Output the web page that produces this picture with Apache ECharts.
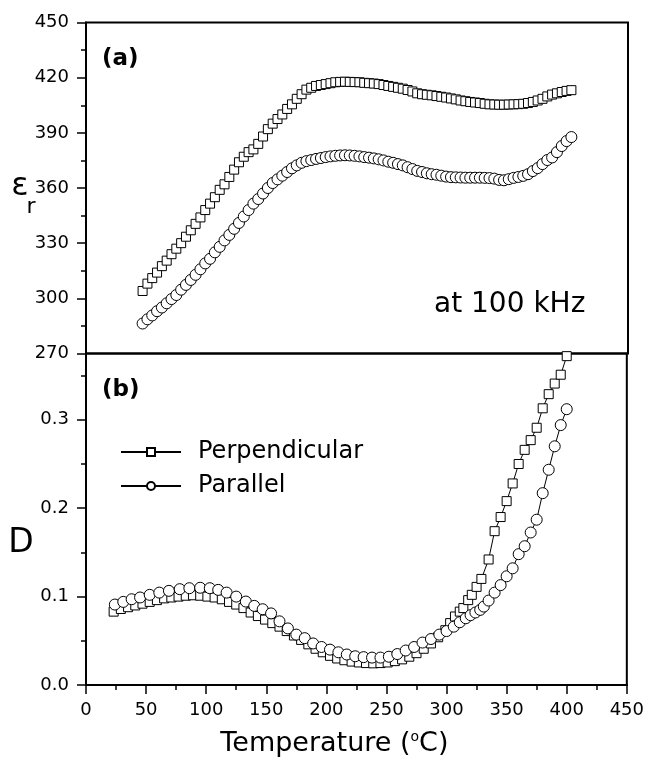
<!DOCTYPE html>
<html><head><meta charset="utf-8">
<script src="https://cdn.jsdelivr.net/npm/echarts@6/dist/echarts.min.js"></script>
<style>html,body{margin:0;padding:0;background:#fff}#c{width:647px;height:762px}</style>
</head><body><div id="c"></div>
<script>
// ---- Data ----
const xTicks = [0, 50, 100, 150, 200, 250, 300, 350, 400, 450];
const epsTicks = [270, 300, 330, 360, 390, 420, 450];
const dTicks = [0.0, 0.1, 0.2, 0.3];

// (a) dielectric constant at 100 kHz
const tempA = [47,51,55,59,63,67,71,75,79,83,87,91,95,99,103,107,111,115,119,123,127,131,135,139,143,147,151,155,159,163,167,171,175,179,183,187,191,195,199,203,207,211,215,219,223,227,231,235,239,243,247,251,255,259,263,267,271,275,279,283,287,291,295,299,303,307,311,315,319,323,327,331,335,339,343,347,351,355,359,363,367,371,375,379,383,387,391,395,399,403];
const epsPerp = [304,308,311,314,317.5,320.5,324,327,330,333.5,337,340.5,344,348,351.5,355,359,362,366,370,374,377,379.5,381,384,388,392,395,397.5,400,403,405.5,408.5,411,413.5,414.5,415.5,416,416.5,417,417.5,417.7,417.8,417.7,417.6,417.5,417.2,417,416.8,416.5,416,415.5,415,414.5,414,413.3,412.5,411.5,411,410.7,410.4,410,409.6,409.2,408.7,408.2,407.6,407.2,406.8,406.5,406.2,405.8,405.5,405.4,405.3,405.3,405.4,405.5,405.6,405.8,406.2,406.8,407.6,408.5,409.8,410.8,411.5,412.2,412.8,413.2];
const epsPar = [286.3,288.6,290.7,293,295,297.3,299.6,301.8,304.7,307.3,310,312.8,315.8,319,321.5,325,328,331.5,334.5,337.8,341,344.5,348,351.5,354,357,360,362.7,364.7,366.7,368.7,370.7,372.3,373.7,374.6,375.2,375.8,376.3,376.8,377.2,377.5,377.7,377.8,377.7,377.5,377.2,376.8,376.5,376.1,375.6,375,374.3,373.7,373,372.3,371.3,370.3,369.3,368.7,368,367.5,367.2,366.7,366.2,365.9,365.8,365.7,365.6,365.6,365.6,365.6,365.5,365.4,365.1,364.4,364.2,364.8,365.5,366,366.6,367.5,369.2,370.8,373,375.2,376.6,379.5,382.8,385.5,387.7];

// (b) loss tangent D
const tempPerpB = [23,29,35,41,47,53,59,65,71,77,83,89,95,101,107,113,119,125,131,137,143,149,155,161,167,173,179,185,191,197,203,209,215,221,227,233,239,245,251,257,263,269,275,281,287,293,299,303,307,311,314,318,321,325,329,335,340,345,350,355,360,365,370,375,380,385,390,395,400];
const dPerp = [0.083,0.086,0.088,0.090,0.092,0.094,0.096,0.098,0.099,0.100,0.101,0.1015,0.101,0.100,0.099,0.097,0.094,0.091,0.087,0.082,0.078,0.074,0.070,0.066,0.061,0.056,0.051,0.046,0.041,0.037,0.033,0.030,0.028,0.0265,0.0255,0.0248,0.0245,0.0248,0.0255,0.027,0.029,0.032,0.036,0.041,0.047,0.054,0.062,0.070,0.0775,0.083,0.087,0.096,0.102,0.111,0.120,0.142,0.174,0.190,0.208,0.228,0.250,0.266,0.277,0.291,0.313,0.329,0.341,0.351,0.372];
const tempParB = [24,31,38,45,53,61,69,78,86,95,103,110,117,125,133,140,147,154,161,168,175,182,189,196,203,210,217,224,231,238,245,252,259,266,273,280,287,294,300,306,311,316,320,324,328,331,335,340,345,350,355,360,365,370,375,380,385,390,395,400];
const dPar = [0.091,0.094,0.097,0.099,0.102,0.1045,0.1065,0.1084,0.1095,0.110,0.1095,0.1076,0.1045,0.100,0.0944,0.0895,0.0857,0.081,0.072,0.064,0.057,0.053,0.047,0.043,0.040,0.037,0.0345,0.0325,0.0315,0.031,0.031,0.032,0.035,0.039,0.043,0.048,0.052,0.057,0.061,0.066,0.071,0.0755,0.079,0.082,0.085,0.0887,0.0955,0.1045,0.113,0.123,0.132,0.148,0.157,0.1725,0.187,0.217,0.2435,0.27,0.294,0.312];

const seriesNames = ['Perpendicular', 'Parallel'];

// ---- Chart ----
const FONT = 'DejaVu Sans';
const pair = (xs, ys) => xs.map((x, i) => [x, ys[i]]);
const chart = echarts.init(document.getElementById('c'), null, {renderer: 'canvas'});

const tickStyle = {color: '#000', width: 1.5};
const labelStyle = {color: '#000', fontSize: 18, fontFamily: FONT};

function mk(name, xi, yi, xs, ys, sym, size) {
  return {
    name: name, type: 'line', xAxisIndex: xi, yAxisIndex: yi,
    data: pair(xs, ys), symbol: sym, symbolSize: size, showAllSymbol: true,
    itemStyle: {color: '#fff', borderColor: '#000', borderWidth: 1},
    lineStyle: {color: '#000', width: 1},
    emphasis: {disabled: true}, clip: true
  };
}

const option = {
  animation: false,
  backgroundColor: '#fff',
  grid: [
    {left: 86, right: 19, top: 22.5, height: 331, show: true, borderColor: '#000', borderWidth: 2},
    {left: 86, right: 19, top: 353.5, height: 331.5, show: true, borderColor: '#000', borderWidth: 2}
  ],
  xAxis: [
    {gridIndex: 0, type: 'value', min: xTicks[0], max: xTicks[xTicks.length - 1], interval: 50,
     axisLine: {show: false}, axisTick: {show: false}, axisLabel: {show: false}, splitLine: {show: false}},
    {gridIndex: 1, type: 'value', min: xTicks[0], max: xTicks[xTicks.length - 1], interval: 50,
     axisLine: {show: true, onZero: false, lineStyle: {color: '#000', width: 2}},
     axisTick: {show: true, length: 9, lineStyle: tickStyle},
     minorTick: {show: true, splitNumber: 2, length: 5, lineStyle: tickStyle},
     axisLabel: Object.assign({margin: 16}, labelStyle),
     splitLine: {show: false},
     name: 'Temperature ({s|o}C)', nameLocation: 'middle', nameGap: 45,
     nameTextStyle: {color: '#000', fontSize: 27, fontFamily: FONT, padding: [0, 44, 0, 0],
       rich: {s: {fontSize: 14, fontFamily: FONT, color: '#000', verticalAlign: 'top', lineHeight: 24}}}}
  ],
  yAxis: [
    {gridIndex: 0, type: 'value', min: epsTicks[0], max: epsTicks[epsTicks.length - 1], interval: 30,
     axisLine: {show: true, onZero: false, lineStyle: {color: '#000', width: 2}},
     axisTick: {show: true, length: 9, lineStyle: tickStyle},
     minorTick: {show: true, splitNumber: 2, length: 5, lineStyle: tickStyle},
     axisLabel: Object.assign({margin: 17}, labelStyle),
     splitLine: {show: false}},
    {gridIndex: 1, type: 'value', min: 0, max: 0.375, interval: 0.1, position: 'left',
     axisLine: {show: true, onZero: false, lineStyle: {color: '#000', width: 2}},
     axisTick: {show: true, length: 9, lineStyle: tickStyle},
     axisLabel: Object.assign({margin: 17, showMaxLabel: false,
       formatter: v => (dTicks.some(t => Math.abs(t - v) < 1e-9) ? v.toFixed(1) : '')}, labelStyle),
     splitLine: {show: false}},
    {gridIndex: 1, type: 'value', min: 0, max: 0.375, interval: 0.05, position: 'left', offset: 0,
     axisLine: {show: false}, axisTick: {show: true, length: 5, lineStyle: tickStyle},
     axisLabel: {show: false}, splitLine: {show: false}}
  ],
  legend: {
    data: seriesNames, orient: 'vertical', left: 115, top: 435,
    itemWidth: 60, itemHeight: 10, itemGap: 10,
    textStyle: {color: '#000', fontSize: 24, fontFamily: FONT, lineHeight: 24, padding: [0, 0, 0, 12]},
    selectedMode: false
  },
  series: [
    mk(seriesNames[0], 0, 0, tempA, epsPerp, 'rect', 9),
    mk(seriesNames[1], 0, 0, tempA, epsPar, 'circle', 11),
    mk(seriesNames[0], 1, 1, tempPerpB, dPerp, 'rect', 9),
    mk(seriesNames[1], 1, 1, tempParB, dPar, 'circle', 11)
  ],
  graphic: [
    {type: 'text', x: 102, y: 59, style: {text: '(a)', fill: '#000', font: 'bold 23px "DejaVu Sans"', textAlign: 'left', textVerticalAlign: 'middle'}},
    {type: 'text', x: 102, y: 390, style: {text: '(b)', fill: '#000', font: 'bold 23px "DejaVu Sans"', textAlign: 'left', textVerticalAlign: 'middle'}},
    {type: 'text', x: 434, y: 305, style: {text: 'at 100 kHz', fill: '#000', font: '28px "DejaVu Sans"', textAlign: 'left', textVerticalAlign: 'middle'}},
    {type: 'text', x: 20, y: 187, style: {text: 'ε', fill: '#000', font: '32px "DejaVu Sans"', textAlign: 'center', textVerticalAlign: 'middle'}},
    {type: 'text', x: 31, y: 207, style: {text: 'r', fill: '#000', font: '22px "DejaVu Sans"', textAlign: 'center', textVerticalAlign: 'middle'}},
    {type: 'text', x: 21, y: 543, style: {text: 'D', fill: '#000', font: '33px "DejaVu Sans"', textAlign: 'center', textVerticalAlign: 'middle'}}
  ]
};
chart.setOption(option);
</script></body></html>
